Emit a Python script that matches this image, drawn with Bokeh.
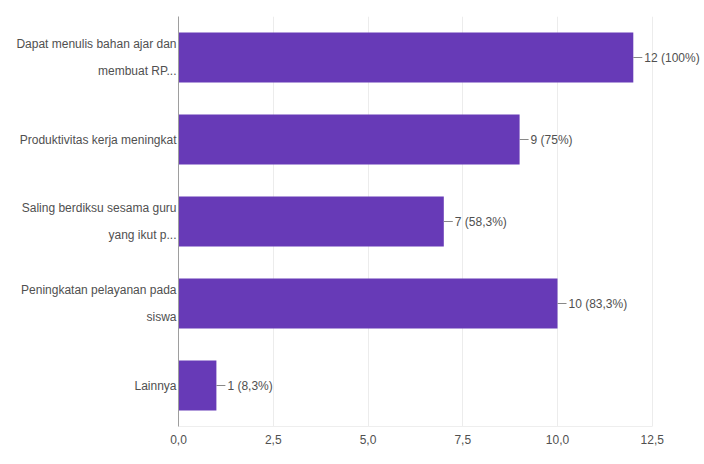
from bokeh.plotting import figure
from bokeh.models import ColumnDataSource, LabelSet, Range1d, FactorRange, FixedTicker
from bokeh.core.properties import value
from bokeh.embed import file_html
from bokeh.resources import INLINE

categories = [
    "Dapat menulis bahan ajar dan\nmembuat RP...",
    "Produktivitas kerja meningkat",
    "Saling berdiksu sesama guru\nyang ikut p...",
    "Peningkatan pelayanan pada\nsiswa",
    "Lainnya",
]
counts = [12, 9, 7, 10, 1]
value_labels = ["12 (100%)", "9 (75%)", "7 (58,3%)", "10 (83,3%)", "1 (8,3%)"]
x_ticks = [0, 2.5, 5, 7.5, 10, 12.5]
x_tick_labels = ["0,0", "2,5", "5,0", "7,5", "10,0", "12,5"]

FONT = "Liberation Sans"
TEXT_COLOR = "#505050"
BAR_COLOR = "#673ab7"
PX_PER_UNIT = 37.9
FRAME_LEFT = 178
FRAME_RIGHT = 700
LEAD = 9 / PX_PER_UNIT

p = figure(
    width=704, height=464,
    y_range=FactorRange(*reversed(categories), range_padding=0),
    x_range=Range1d(0, (FRAME_RIGHT - FRAME_LEFT) / PX_PER_UNIT),
    output_backend="svg", toolbar_location=None,
    min_border_left=FRAME_LEFT, min_border_right=704 - FRAME_RIGHT,
    min_border_top=16, min_border_bottom=38,
)
p.outline_line_color = None
p.background_fill_color = "white"
p.border_fill_color = "white"

src = ColumnDataSource(dict(cat=categories, count=counts, lab=value_labels,
                            end=[c + LEAD for c in counts]))
p.hbar(y="cat", right="count", left=0, height=0.61, source=src,
       fill_color=BAR_COLOR, line_color=None)
p.segment(x0="count", y0="cat", x1="end", y1="cat", source=src,
          line_color="#888888", line_width=1)
p.add_layout(LabelSet(x="count", y="cat", text="lab", source=src,
                      x_offset=11, text_baseline="middle", text_align="left",
                      text_font=value(FONT), text_font_size="12px", text_color=TEXT_COLOR))

# y axis: category labels
p.yaxis.major_label_text_font = FONT
p.yaxis.major_label_text_font_size = "12px"
p.yaxis.major_label_text_color = TEXT_COLOR
p.yaxis.major_label_text_line_height = 1.9
p.yaxis.major_label_text_align = "right"
p.yaxis.major_label_standoff = 2
p.yaxis.major_tick_out = 0
p.yaxis.major_tick_in = 0
p.yaxis.major_tick_line_color = None
p.yaxis.minor_tick_line_color = None
p.yaxis.axis_line_color = "#9e9e9e"
p.ygrid.grid_line_color = None

p.xaxis.ticker = FixedTicker(ticks=x_ticks)
p.xaxis.major_label_overrides = {t: l for t, l in zip(x_ticks, x_tick_labels)}
p.xaxis.bounds = (x_ticks[0], x_ticks[-1])
p.xaxis.axis_line_color = "#eeeeee"
p.xaxis.major_tick_out = 0
p.xaxis.major_tick_in = 0
p.xaxis.major_tick_line_color = None
p.xaxis.minor_tick_line_color = None
p.xaxis.major_label_text_font = FONT
p.xaxis.major_label_text_font_size = "12px"
p.xaxis.major_label_text_color = TEXT_COLOR
p.xaxis.major_label_standoff = 8
p.xgrid.ticker = FixedTicker(ticks=x_ticks)
p.xgrid.bounds = (x_ticks[0], x_ticks[-1])
p.xgrid.grid_line_color = "#ececec"

open("out.html", "w").write(file_html(p, INLINE))
